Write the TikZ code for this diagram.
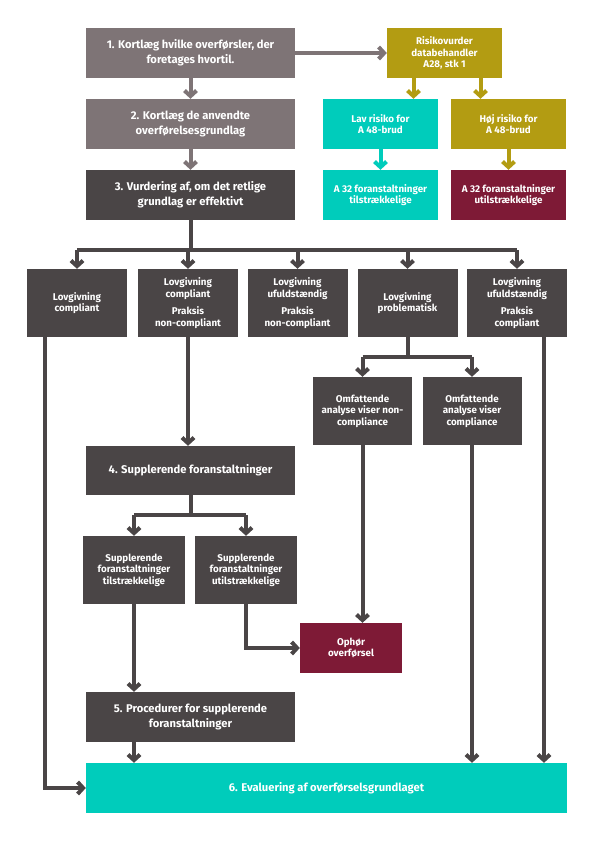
\documentclass[tikz,border=0pt]{standalone}
\usepackage{fontspec}
\setmainfont{Fira Sans}
\usetikzlibrary{arrows.meta}
\definecolor{cgrey}{HTML}{7E7476}
\definecolor{cdark}{HTML}{4A4546}
\definecolor{colive}{HTML}{B39C12}
\definecolor{cteal}{HTML}{00CCBB}
\definecolor{cmaroon}{HTML}{7E1A36}
\tikzset{
  box/.style={inner sep=2pt, align=center, text=white, font=\bfseries\fontsize{11.2}{15}\selectfont},
  sbox/.style={box, font=\bfseries\fontsize{9.8}{11.5}\selectfont},
  bigbox/.style={minimum width=209pt, minimum height=50pt},
  midbox/.style={minimum width=115pt, minimum height=50pt},
  rowbox/.style={minimum width=100pt, minimum height=68pt},
  con/.style={line width=4pt, line join=miter, -{Straight Barb[length=5.5pt,width=12pt]}},
  seg/.style={line width=4pt, line join=miter},
}
\begin{document}
\begin{tikzpicture}[x=1pt,y=-1pt]
\useasboundingbox (0,0) rectangle (595,842);
% top boxes
\node[box, bigbox, fill=cgrey] (b1) at (190.5,53) {1. Kortlæg hvilke overførsler, der\\foretages hvortil.};
\node[box, bigbox, fill=cgrey] (b2) at (190.5,124) {2. Kortlæg de anvendte\\overførelsesgrundlag};
\node[box, bigbox, fill=cdark] (b3) at (190.5,195) {3. Vurdering af, om det retlige\\grundlag er effektivt};
\node[sbox, midbox, fill=colive] (risk) at (444.5,53) {Risikovurder\\databehandler\\A28, stk 1};
\node[sbox, midbox, fill=cteal] (lav) at (380.5,124) {Lav risiko for\\A 48-brud};
\node[sbox, midbox, fill=colive] (hoj) at (508.5,124) {Høj risiko for\\A 48-brud};
\node[sbox, midbox, fill=cteal] (a32t) at (380.5,195) {A 32 foranstaltninger\\tilstrækkelige};
\node[sbox, midbox, fill=cmaroon] (a32u) at (508.5,195) {A 32 foranstaltninger\\utilstrækkelige};
% row of five
\node[sbox, rowbox, fill=cdark] (r1) at (77,303) {Lovgivning\\compliant};
\node[sbox, rowbox, fill=cdark] (r2) at (188,303) {Lovgivning\\compliant\\[6pt]Praksis\\non-compliant};
\node[sbox, rowbox, fill=cdark] (r3) at (297.5,303) {Lovgivning\\ufuldstændig\\[6pt]Praksis\\non-compliant};
\node[sbox, rowbox, fill=cdark] (r4) at (407.5,303) {Lovgivning\\problematisk};
\node[sbox, rowbox, fill=cdark] (r5) at (517,303) {Lovgivning\\ufuldstændig\\[6pt]Praksis\\compliant};
% analysis
\node[sbox, minimum width=99pt, minimum height=68pt, fill=cdark] (o1) at (362.5,411) {Omfattende\\analyse viser non-\\compliance};
\node[sbox, minimum width=99pt, minimum height=68pt, fill=cdark] (o2) at (472,411) {Omfattende\\analyse viser\\compliance};
% lower
\node[box, minimum width=209pt, minimum height=49pt, fill=cdark] (b4) at (190.5,470.5) {4. Supplerende foranstaltninger};
\node[sbox, minimum width=102pt, minimum height=68pt, fill=cdark] (s1) at (134,570) {Supplerende\\foranstaltninger\\tilstrækkelige};
\node[sbox, minimum width=102pt, minimum height=68pt, fill=cdark] (s2) at (246,570) {Supplerende\\foranstaltninger\\utilstrækkelige};
\node[sbox, minimum width=102pt, minimum height=50pt, fill=cmaroon] (oph) at (351,648) {Ophør\\overførsel};
\node[box, bigbox, fill=cdark] (b5) at (190.5,717) {5. Procedurer for supplerende\\foranstaltninger};
\node[box, minimum width=481pt, minimum height=50pt, fill=cteal] (b6) at (326.5,788) {6. Evaluering af overførselsgrundlaget};

% connectors top
\draw[con, cgrey] (b1) -- (b2);
\draw[con, cgrey] (b2) -- (b3);
\draw[con, cgrey] (b1) -- (risk);
\coordinate (rl) at ([xshift=-31pt]risk.south);
\coordinate (rr) at ([xshift=36pt]risk.south);
\draw[con, colive] (rl) -- (rl |- lav.north);
\draw[con, colive] (rr) -- (rr |- hoj.north);
\draw[con, cteal] (lav) -- (a32t);
\draw[con, colive] (hoj) -- (a32u);

% bus to row
\draw[seg, cdark] (b3.south) -- ++(0,30) coordinate (bus);
\draw[seg, cdark] (r1.north |- bus) -- (r5.north |- bus);
\foreach \r in {r1,r2,r3,r4,r5} {
  \draw[con, cdark] (\r.north |- bus) -- (\r.north);
}
% row outputs
\coordinate (r1o) at ([xshift=-32pt]r1.south);
\draw[con, cdark] (r1o) |- (b6.west);
\draw[con, cdark] (r2.south) -- (r2.south |- b4.north);
\draw[seg, cdark] (r4.south) -- ++(0,19.5) coordinate (bus2);
\draw[seg, cdark] (o1.north |- bus2) -- (o2.north |- bus2);
\draw[con, cdark] (o1.north |- bus2) -- (o1.north);
\draw[con, cdark] (o2.north |- bus2) -- (o2.north);
\coordinate (r5o) at ([xshift=27pt]r5.south);
\draw[con, cdark] (r5o) -- (r5o |- b6.north);
\draw[con, cdark] (o1.south) -- (o1.south |- oph.north);
\draw[con, cdark] (o2.south) -- (o2.south |- b6.north);
% supplementary split
\draw[seg, cdark] (b4.south) -- ++(0,20) coordinate (bus3);
\draw[seg, cdark] (s1.north |- bus3) -- (s2.north |- bus3);
\draw[con, cdark] (s1.north |- bus3) -- (s1.north);
\draw[con, cdark] (s2.north |- bus3) -- (s2.north);
\draw[con, cdark] (s2.south) |- (oph.west);
\draw[con, cdark] (s1.south) -- (s1.south |- b5.north);
\coordinate (b5o) at (s1.south |- b5.south);
\draw[con, cdark] (b5o) -- (b5o |- b6.north);
\end{tikzpicture}
\end{document}
